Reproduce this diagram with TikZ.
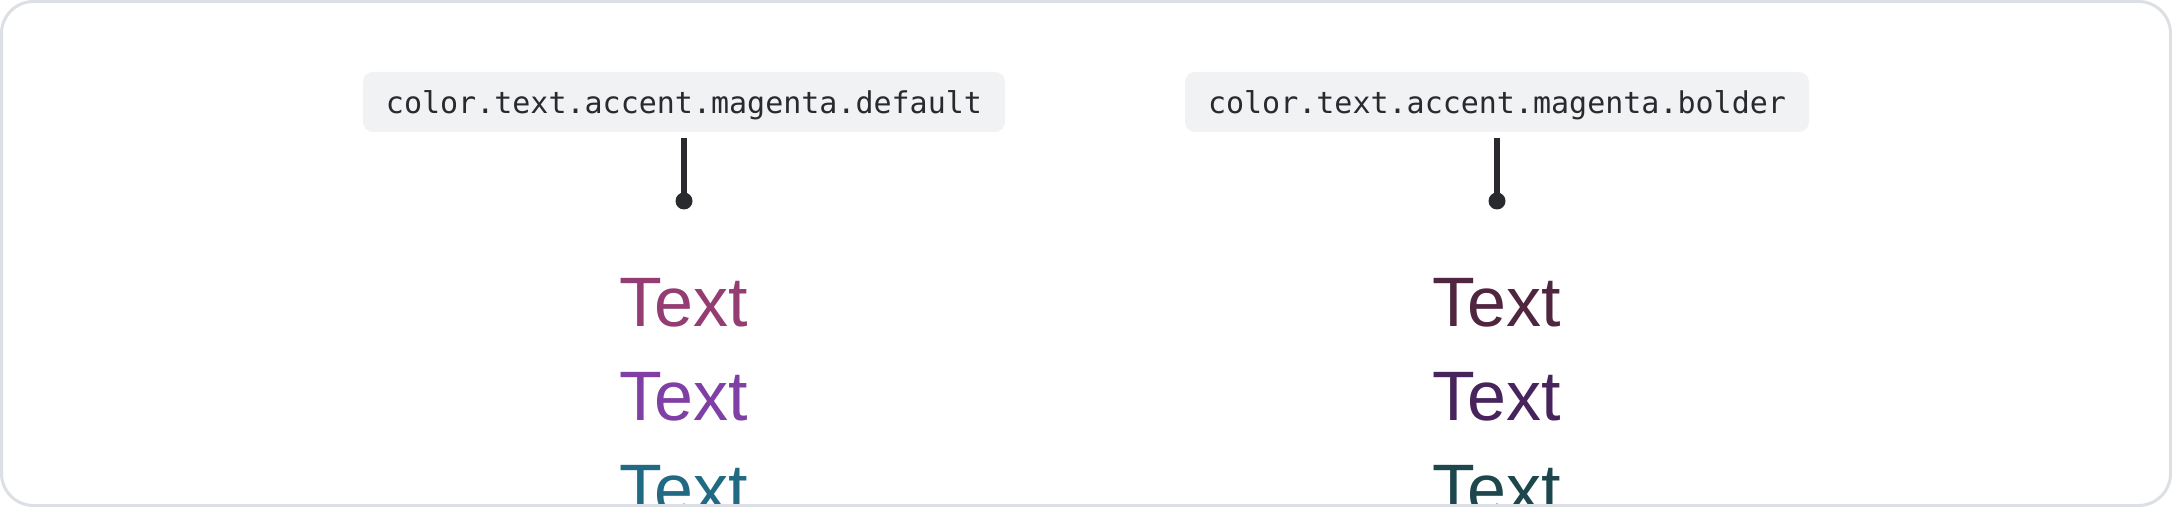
\documentclass[tikz,border=0pt]{standalone}
\usepackage{fontspec}
\setmainfont{Liberation Sans}
\setmonofont{DejaVu Sans Mono}
\usetikzlibrary{positioning}
\definecolor{bd}{HTML}{DCDFE4}
\definecolor{bg}{HTML}{F1F2F4}
\definecolor{fg}{HTML}{292A2E}
\definecolor{mg}{HTML}{943D73}
\definecolor{pu}{HTML}{803FA5}
\definecolor{te}{HTML}{206A83}
\definecolor{mgb}{HTML}{50253F}
\definecolor{pub}{HTML}{48245D}
\definecolor{teb}{HTML}{1D474C}
\begin{document}
\begin{tikzpicture}[x=0.5pt, y=-0.5pt,
  token/.style={fill=bg, rounded corners=5pt, text=fg, font=\ttfamily\fontsize{15}{18}\selectfont,
    inner xsep=11.5pt, minimum height=30pt, text height=12pt, text depth=0pt},
  stem/.style={draw=fg, line width=3pt},
  pin/.style={circle, fill=fg, inner sep=0pt, minimum size=8.5pt},
  sample/.style={anchor=base, font=\fontsize{35}{42}\selectfont, inner sep=0pt}]
  \clip (0,0) rectangle (2172,507);

  % default
  \node[token] (defLbl) at (684,102) {color.text.accent.magenta.default};
  \node[pin] (defPin) at (684,201) {};
  \draw[stem] ([yshift=-3pt]defLbl.south) -- (defPin.center);
  \node[sample, text=mg] (defMg) at (684,327) {Text};
  \node[sample, text=pu] (defPu) at (684,420) {Text};
  \node[sample, text=te] (defTe) at (684,513) {Text};

  % bolder
  \node[token] (bldLbl) at (1497,102) {color.text.accent.magenta.bolder};
  \node[pin] (bldPin) at (1497,201) {};
  \draw[stem] ([yshift=-3pt]bldLbl.south) -- (bldPin.center);
  \node[sample, text=mgb] (bldMg) at (1497,327) {Text};
  \node[sample, text=pub] (bldPu) at (1497,420) {Text};
  \node[sample, text=teb] (bldTe) at (1497,513) {Text};

  \draw[bd, line width=1.5pt, rounded corners=16pt] (1.5,1.5) rectangle (2170.5,505.5);
\end{tikzpicture}
\end{document}
